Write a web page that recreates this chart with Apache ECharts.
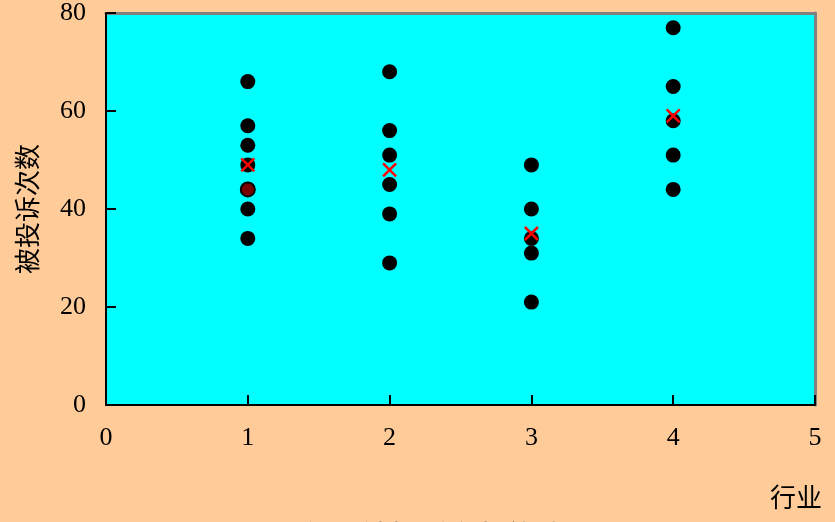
<!DOCTYPE html>
<html>
<head>
<meta charset="utf-8">
<script src="https://cdn.jsdelivr.net/npm/echarts@6/dist/echarts.min.js"></script>
<style>html,body{margin:0;padding:0;background:#FFCC99;}#c{width:835px;height:522px;}</style>
</head>
<body>
<div id="c"></div>
<script>
var industries = [1, 2, 3, 4];
var complaints1 = [66, 57, 53, 49, 44, 40, 34];
var complaints2 = [68, 56, 51, 45, 39, 29];
var complaints3 = [49, 40, 34, 31, 21];
var complaints4 = [77, 65, 58, 51, 44];
var highlightPoint = [1, 44];
var means = [49, 48, 35, 59];
var xTicks = [0, 1, 2, 3, 4, 5];
var yTicks = [0, 20, 40, 60, 80];
var titleText = '不同行业被投诉次数的散点图';

var groups = [complaints1, complaints2, complaints3, complaints4];
var pts = [];
groups.forEach(function (g, i) {
  g.forEach(function (v) { pts.push([industries[i], v]); });
});
var meanPts = industries.map(function (x, i) { return [x, means[i]]; });

var font = '"Liberation Serif", "Noto Sans CJK SC", serif';
var chart = echarts.init(document.getElementById('c'));
chart.setOption({
  backgroundColor: '#FFCC99',
  animation: false,
  grid: [{ left: 106, right: 20, top: 12, bottom: 117, show: true, backgroundColor: '#00FFFF', borderWidth: 0 }],
  xAxis: [{
    type: 'value', min: xTicks[0], max: xTicks[xTicks.length - 1], interval: 1,
    name: '行业', nameLocation: 'end', nameGap: 7,
    nameTextStyle: { fontFamily: font, fontSize: 26, color: '#000', align: 'right', verticalAlign: 'top', padding: [82, 0, 0, 0] },
    axisLine: { onZero: false, lineStyle: { color: '#000', width: 2 } },
    axisTick: { inside: true, length: 10, lineStyle: { color: '#000', width: 2 } },
    axisLabel: { fontFamily: font, fontSize: 26, color: '#000', margin: 20 },
    splitLine: { show: false }, z: 5
  }, {
    type: 'value', position: 'top', min: 0, max: 5,
    axisLine: { show: true, onZero: false, lineStyle: { color: '#808080', width: 3 } },
    axisTick: { show: false }, axisLabel: { show: false }, splitLine: { show: false }
  }],
  yAxis: [{
    type: 'value', min: yTicks[0], max: yTicks[yTicks.length - 1], interval: 20,
    name: '被投诉次数', nameLocation: 'middle', nameGap: 63, nameRotate: 90,
    nameTextStyle: { fontFamily: font, fontSize: 26, color: '#000' },
    axisLine: { onZero: false, lineStyle: { color: '#000', width: 2 } },
    axisTick: { inside: true, length: 10, lineStyle: { color: '#000', width: 2 } },
    axisLabel: { fontFamily: font, fontSize: 26, color: '#000', margin: 20 },
    splitLine: { show: false }, z: 5
  }, {
    type: 'value', position: 'right', min: 0, max: 80,
    axisLine: { show: true, onZero: false, lineStyle: { color: '#808080', width: 3 } },
    axisTick: { show: false }, axisLabel: { show: false }, splitLine: { show: false }
  }],
  graphic: [{
    type: 'text', left: 245, top: 521,
    style: { text: titleText, font: '29px "Noto Sans CJK SC", serif', fill: '#000' }
  }],
  series: [{
    type: 'scatter', data: pts, symbol: 'circle', symbolSize: 15,
    itemStyle: { color: '#000', opacity: 1 }, z: 2
  }, {
    type: 'scatter', data: [highlightPoint], symbol: 'circle', symbolSize: 14,
    itemStyle: { color: '#7a0000', borderColor: '#000', borderWidth: 2, opacity: 1 }, z: 3
  }, {
    type: 'scatter', data: meanPts, symbol: 'path://M0,0 L10,10 M10,0 L0,10', symbolSize: 13,
    itemStyle: { color: 'none', borderColor: '#ff0000', borderWidth: 2.5, opacity: 1 }, z: 4
  }]
});
</script>
</body>
</html>
